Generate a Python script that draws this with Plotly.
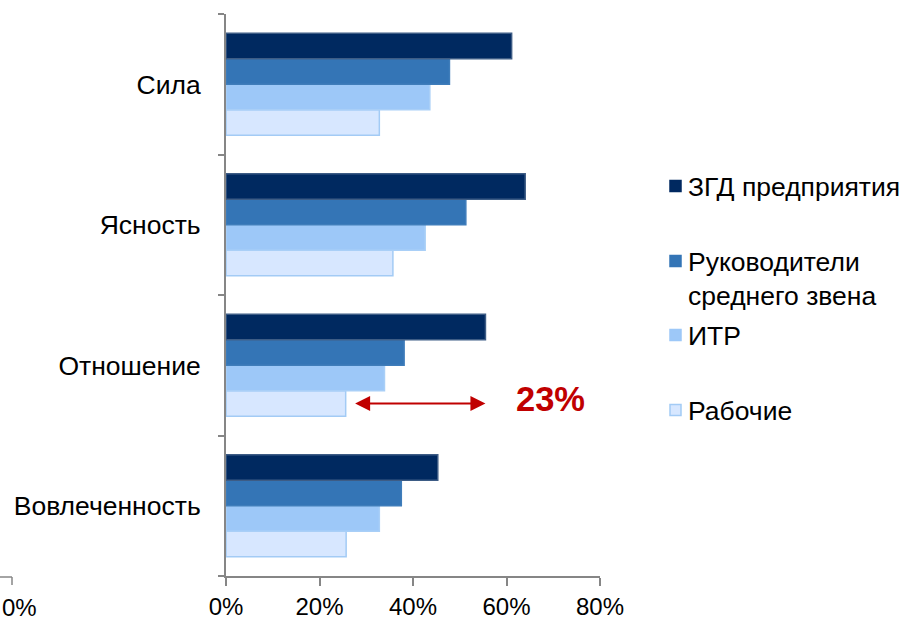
import plotly.graph_objects as go

# Categories listed bottom-to-top along the y axis
categories = ["Вовлеченность", "Отношение", "Ясность", "Сила"]

# Shares per respondent group, %
zgd = [45.3, 55.5, 64.0, 61.1]        # ЗГД предприятия
managers = [37.5, 38.1, 51.3, 47.8]   # Руководители среднего звена
itr = [32.8, 33.9, 42.6, 43.6]        # ИТР
workers = [25.7, 25.6, 35.7, 32.8]    # Рабочие

series_names = ["Рабочие", "ИТР", "Руководители<br>среднего звена", "ЗГД предприятия"]
series_values = [workers, itr, managers, zgd]
fill_colors = ["#D7E7FF", "#9DC8F8", "#3475B6", "#002960"]
edge_colors = ["#A3CBF5", "#A9CFF7", "#3F7DBA", "#3D5C85"]

x_ticks = [0, 20, 40, 60, 80]
gap_label = "23%"
arrow_from, arrow_to = 27.3, 55.5

FONT = "Liberation Sans, Arial, sans-serif"
W, H = 905, 620
L, R, T, B = 226, 305, 14, 44
BARGAP = 0.274
LABEL_SIZE = 26.5
TICK_SIZE = 24

fig = go.Figure()
for name, vals, fc, ec in zip(series_names, series_values, fill_colors, edge_colors):
    fig.add_trace(go.Bar(
        y=categories, x=vals, name=name, orientation="h",
        marker=dict(color=fc, line=dict(color=ec, width=1.5)),
        showlegend=False,
    ))


def px_x(p):
    return (p - L) / (W - L - R)


def px_y(q):
    return (H - B - q) / (H - T - B)


# Legend drawn as squares and labels on the right
legend_rows = [
    ("ЗГД предприятия", "#002960", "#002960", 186),
    ("Руководители<br>среднего звена", "#3475B6", "#3475B6", 261),
    ("ИТР", "#9DC8F8", "#9DC8F8", 335),
    ("Рабочие", "#D7E7FF", "#A3CBF5", 410),
]
shapes = []
annotations = []
for text, fc, ec, yc in legend_rows:
    shapes.append(dict(type="rect", xref="paper", yref="paper",
                       x0=px_x(670), x1=px_x(681), y0=px_y(yc + 5.5), y1=px_y(yc - 5.5),
                       fillcolor=fc, line=dict(color=ec, width=1.5)))
    annotations.append(dict(xref="paper", yref="paper", x=px_x(686), y=px_y(yc - 16),
                            xanchor="left", yanchor="top", align="left", showarrow=False,
                            text=text, font=dict(family=FONT, size=LABEL_SIZE, color="#000000")))

# Gap arrow at the "Рабочие" bar of "Отношение"
n = len(series_names)
bar_w = (1 - BARGAP) / n
y_workers = categories.index("Отношение") - (1 - BARGAP) / 2 + bar_w / 2
annotations.append(dict(x=arrow_to, y=y_workers, ax=arrow_from, ay=y_workers,
                        xref="x", yref="y", axref="x", ayref="y", text="",
                        showarrow=True, arrowside="end+start", arrowhead=2,
                        arrowsize=1.5, arrowwidth=2, arrowcolor="#C00000",
                        standoff=0, startstandoff=0))
annotations.append(dict(x=69.5, y=y_workers + 0.035, xref="x", yref="y",
                        text="<b>%s</b>" % gap_label, showarrow=False,
                        font=dict(family=FONT, size=34.5, color="#C00000")))

# Edge of the neighbouring axis at the far left
shapes.append(dict(type="line", xref="paper", yref="paper",
                   x0=px_x(0), x1=px_x(12), y0=px_y(577), y1=px_y(577),
                   line=dict(color="#868686", width=1.5)))
shapes.append(dict(type="line", xref="paper", yref="paper",
                   x0=px_x(12), x1=px_x(12), y0=px_y(577), y1=px_y(585),
                   line=dict(color="#868686", width=1.5)))
annotations.append(dict(xref="paper", yref="paper", x=px_x(1), y=px_y(593),
                        xanchor="left", yanchor="top", showarrow=False, text="0%",
                        borderpad=0,
                        font=dict(family=FONT, size=TICK_SIZE, color="#000000")))

fig.update_layout(
    width=W, height=H,
    margin=dict(l=L, r=R, t=T, b=B, pad=0, autoexpand=False),
    paper_bgcolor="white", plot_bgcolor="white",
    barmode="group", bargap=BARGAP, bargroupgap=0,
    font=dict(family=FONT, size=TICK_SIZE, color="#000000"),
    shapes=shapes, annotations=annotations,
    xaxis=dict(range=[0, 80], tickvals=x_ticks, ticktext=["%d%%" % v for v in x_ticks],
               automargin=False,
               showgrid=False, zeroline=False, showline=True, linecolor="#868686",
               linewidth=2, ticks="outside", ticklen=8, tickcolor="#868686", tickwidth=1.5,
               tickfont=dict(family=FONT, size=TICK_SIZE, color="#000000")),
    yaxis=dict(categoryorder="array", categoryarray=categories, showgrid=False,
               automargin=False,
               zeroline=False, showline=True, linecolor="#868686", linewidth=2,
               ticks="outside", ticklen=6, tickcolor="#868686", tickwidth=1.5,
               tickson="boundaries", ticklabelstandoff=18,
               tickfont=dict(family=FONT, size=LABEL_SIZE, color="#000000")),
)

fig.write_html("out.html")
